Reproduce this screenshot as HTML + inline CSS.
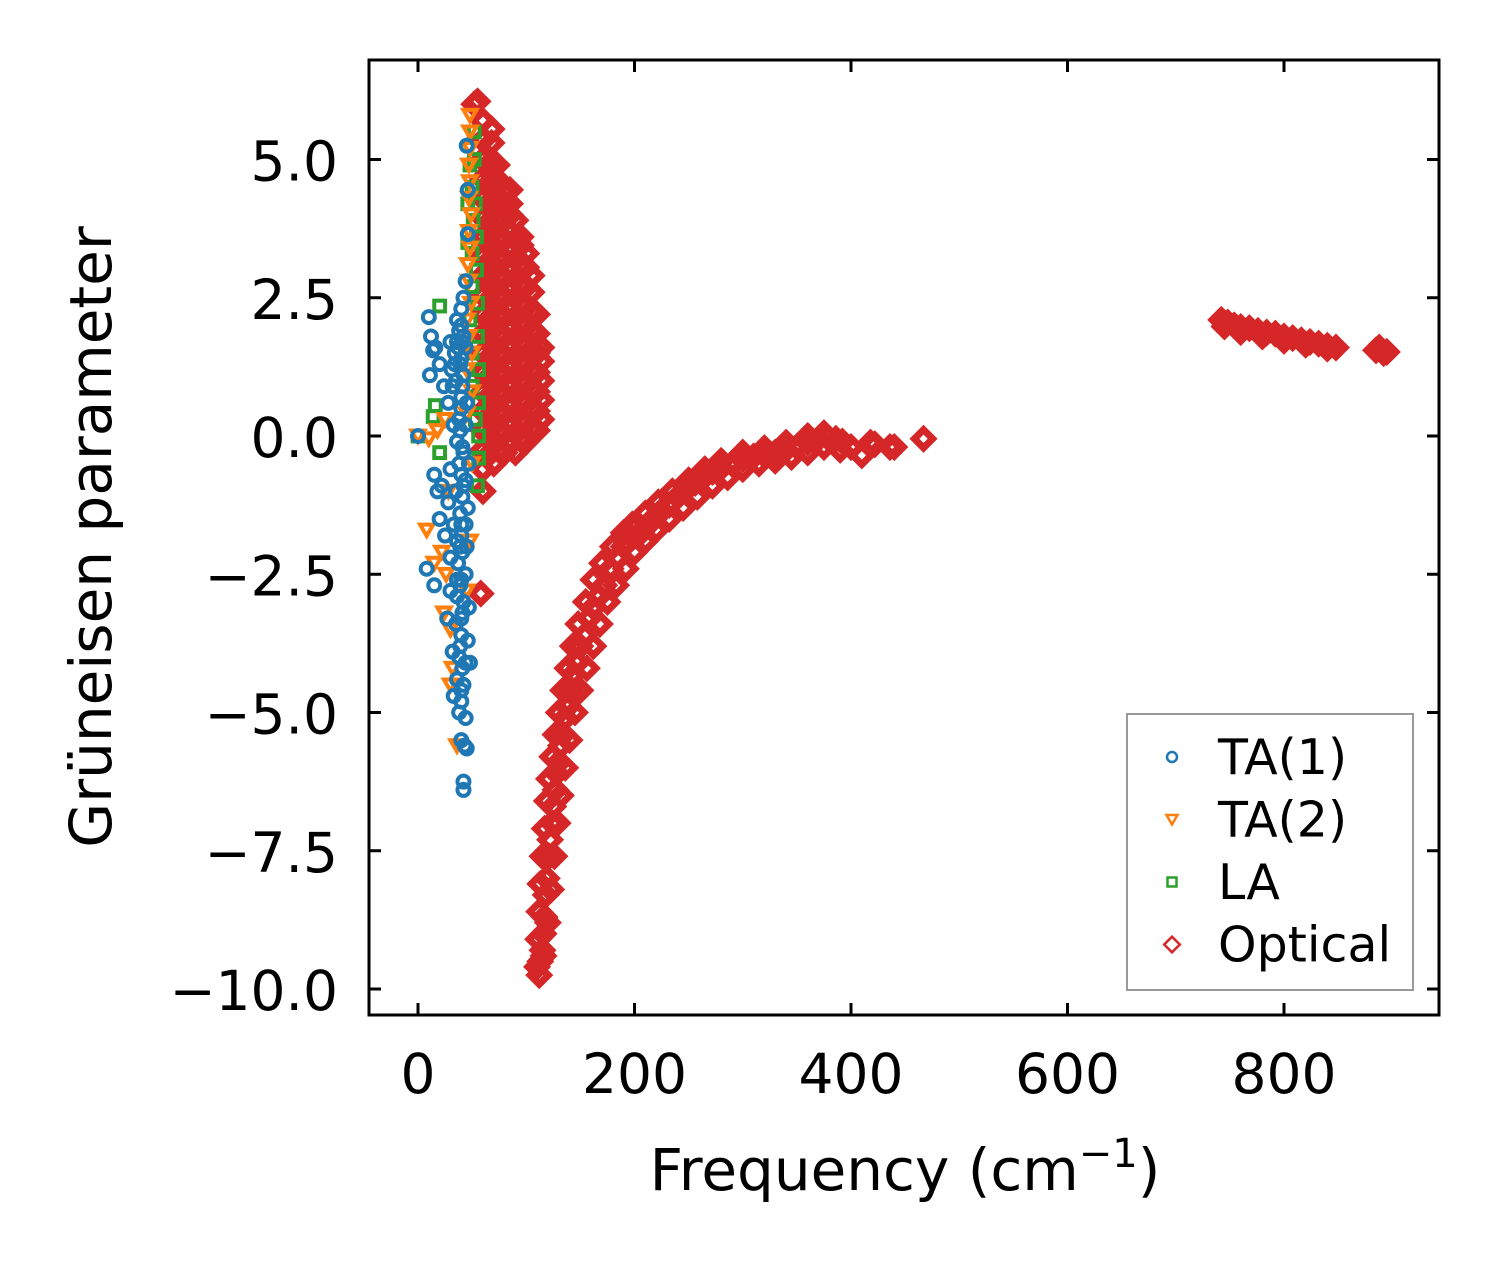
<!DOCTYPE html>
<html><head><meta charset="utf-8"><style>
body{margin:0;background:#fff;}
svg{display:block;font-family:"DejaVu Sans","Liberation Sans",sans-serif;}
</style></head><body>
<svg id="chart" width="1499" height="1264" viewBox="0 0 1499 1264">
<rect width="1499" height="1264" fill="#fff"/>
<g id="marks"></g>
<g id="axes"></g>
</svg>
<script>
const xTicks=[0,200,400,600,800];
const yTicks=[5.0,2.5,0.0,-2.5,-5.0,-7.5,-10.0];
const yTickLabels=["5.0","2.5","0.0","\u22122.5","\u22125.0","\u22127.5","\u221210.0"];
const ta1=[[45,5.25],[46,4.45],[46,3.65],[44,2.8],[42,2.5],[40,2.3],[36,2.1],[38,1.9],[42,1.8],[30,1.7],[34,1.5],[40,1.4],[44,1.6],[10,2.15],[14,1.55],[12,1.8],[16,1.6],[11,1.1],[20,1.3],[24,0.9],[28,0.6],[35,1.0],[42,1.1],[45,0.6],[33,0.2],[38,0.3],[44,0.2],[0,0.0],[36,-0.1],[42,-0.3],[30,-0.6],[15,-0.7],[18,-1.0],[22,-0.9],[28,-1.2],[35,-1.0],[42,-0.9],[46,-1.3],[20,-1.5],[25,-1.8],[33,-1.6],[40,-1.8],[45,-2.0],[30,-2.2],[37,-2.3],[44,-2.5],[8,-2.4],[15,-2.7],[30,-2.8],[36,-2.9],[42,-3.0],[47,-3.1],[27,-3.3],[35,-3.4],[40,-3.6],[46,-3.7],[32,-3.9],[38,-4.0],[44,-4.1],[48,-4.1],[36,-4.4],[42,-4.5],[33,-4.7],[40,-4.8],[44,-5.1],[40,-5.5],[45,-5.65],[43,-5.6],[42,-6.25],[42,-6.4],[38,-0.5],[40,0.7],[47,-0.5],[31,1.2],[37,1.6],[40,2.0],[41,1.7],[39,1.3],[41,0.9],[40,0.5],[39,0.1],[41,-0.2],[40,-0.7],[39,-1.4],[41,-1.1],[40,-1.6],[39,-2.0],[41,-2.1],[40,-2.6],[39,-2.7],[41,-3.2],[40,-3.3],[39,-3.8],[41,-4.2],[40,-4.6],[38,-5.0],[36,1.7],[34,1.3],[32,0.9],[44,-0.8],[44,-1.6],[36,-1.9],[36,-2.6]];
const ta2=[[48,5.8],[48,5.5],[48,5.2],[47,4.9],[48,4.6],[47,4.3],[49,4.0],[47,3.7],[48,3.4],[46,3.1],[47,2.8],[49,2.4],[45,2.1],[47,1.8],[50,1.5],[45,1.2],[50,0.8],[45,0.4],[0,0.0],[10,-0.05],[18,0.1],[25,0.3],[8,-1.7],[15,-2.3],[22,-2.1],[28,-1.0],[24,-3.2],[30,-3.5],[30,-4.5],[36,-5.6],[48,-1.9],[50,-0.5],[45,-2.8],[32,-4.2],[26,-2.5]];
const la=[[52,5.5],[52,5.0],[50,4.5],[53,4.2],[51,3.9],[54,3.6],[50,3.3],[54,3.0],[50,2.7],[55,2.4],[48,2.1],[55,1.8],[50,1.5],[56,1.2],[50,0.9],[56,0.6],[53,0.3],[56,0.0],[56,-0.4],[55,-0.9],[20,2.35],[16,0.55],[14,0.35],[0,0.0],[20,-0.3],[48,4.9],[46,3.5],[46,4.2]];
const opticalCloud=[
[60,-0.6],[60,-0.25],[60,0.1],[60,0.45],[60,0.8],[60,1.15],[60,1.5],[60,1.85],[60,2.2],[60,2.55],[60,2.9],[60,3.25],[60,3.6],[60,3.95],[60,4.3],[60,4.65],[60,5.0],[60,5.35],[60,5.7],
[65,-0.35],[65,0.0],[65,0.35],[65,0.7],[65,1.05],[65,1.4],[65,1.75],[65,2.1],[65,2.45],[65,2.8],[65,3.15],[65,3.5],[65,3.85],[65,4.2],[65,4.55],[65,4.9],
[70,-0.5],[70,-0.15],[70,0.2],[70,0.55],[70,0.9],[70,1.25],[70,1.6],[70,1.95],[70,2.3],[70,2.65],[70,3.0],[70,3.35],[70,3.7],[70,4.05],[70,4.4],[70,4.7],[70,4.9],
[75,-0.25],[75,0.1],[75,0.45],[75,0.8],[75,1.15],[75,1.5],[75,1.85],[75,2.2],[75,2.55],[75,2.9],[75,3.25],[75,3.6],[75,3.95],[75,4.3],[75,4.6],
[80,-0.3],[80,0.05],[80,0.4],[80,0.75],[80,1.1],[80,1.45],[80,1.8],[80,2.15],[80,2.5],[80,2.85],[80,3.2],[80,3.55],[80,3.9],[80,4.2],[80,4.4],
[85,-0.15],[85,0.2],[85,0.55],[85,0.9],[85,1.25],[85,1.6],[85,1.95],[85,2.3],[85,2.65],[85,3.0],[85,3.35],[85,3.7],[85,4.0],[85,4.2],
[90,-0.3],[90,0.05],[90,0.4],[90,0.75],[90,1.1],[90,1.45],[90,1.8],[90,2.15],[90,2.5],[90,2.85],[90,3.2],[90,3.55],[90,3.9],
[95,-0.05],[95,0.3],[95,0.65],[95,1.0],[95,1.35],[95,1.7],[95,2.05],[95,2.4],[95,2.75],[95,3.1],[95,3.45],[95,3.6],
[100,-0.1],[100,0.25],[100,0.6],[100,0.95],[100,1.3],[100,1.65],[100,2.0],[100,2.35],[100,2.7],[100,3.05],[100,3.3],
[105,0.15],[105,0.5],[105,0.85],[105,1.2],[105,1.55],[105,1.9],[105,2.25],[105,2.6],[105,2.9],
[110,0.1],[110,0.45],[110,0.8],[110,1.15],[110,1.5],[110,1.85],[110,2.2],
[114,0.3],[114,0.65],[114,1.0],[114,1.35],[114,1.6],
[68,5.55],[68,5.3],[73,4.9],[85,4.45],[60,-1.0],[58,-2.85],[55,6.05],[52,6.0]];
const opticalCurve=[[112,-9.75],[113,-9.5],[115,-9.3],[116,-9.0],[117,-8.7],[118,-8.3],[119,-8.0],[121,-7.6],[122,-7.3],[124,-7.0],[125,-6.7],[127,-6.4],[128,-6.1],[130,-5.9],[132,-5.6],[134,-5.4],[136,-5.1],[138,-4.9],[141,-4.6],[144,-4.3],[147,-4.1],[150,-3.8],[154,-3.6],[158,-3.3],[162,-3.1],[167,-2.9],[172,-2.7],[178,-2.4],[184,-2.2],[190,-2.0],[196,-1.8],[200,-1.65],[206,-1.75],[212,-1.6],[218,-1.5],[225,-1.35],[232,-1.25],[240,-1.1],[248,-0.95],[256,-0.85],[264,-0.75],[272,-0.65],[280,-0.58],[290,-0.5],[300,-0.42],[310,-0.37],[320,-0.35],[330,-0.3],[340,-0.25],[350,-0.2],[360,-0.12],[370,-0.05],[378,-0.02],[386,-0.05],[392,-0.1],[400,-0.2],[410,-0.35],[418,-0.12],[422,-0.15],[436,-0.2],[440,-0.2],[467,-0.05],
[110,-9.6],[111,-9.1],[112,-8.6],[113,-8.1],[115,-7.6],[117,-7.1],[119,-6.6],[121,-6.2],[124,-5.8],[127,-5.4],[130,-5.0],[134,-4.6],[138,-4.2],[143,-3.8],[148,-3.4],[155,-3.0],[162,-2.6],[170,-2.3],[180,-2.0],[190,-1.75],[198,-1.6],[210,-1.4],[222,-1.2],[235,-1.0],[250,-0.8],[265,-0.6],[280,-0.45],[300,-0.3],[320,-0.22],[340,-0.12],[360,0.0],[375,0.05],
[116,-9.4],[120,-8.8],[123,-8.2],[126,-7.6],[129,-7.0],[132,-6.5],[136,-6.0],[140,-5.5],[145,-5.0],[150,-4.6],[156,-4.2],[162,-3.8],[168,-3.4],[175,-3.0],[183,-2.7],[192,-2.4],[200,-2.1],[210,-1.9],[220,-1.7],[232,-1.5],[245,-1.3],[258,-1.1],[272,-0.9],[286,-0.75],[300,-0.6],[315,-0.5],[330,-0.45],[345,-0.38],[360,-0.3],[375,-0.2],[390,-0.25]];
const opticalHigh=[[742,2.1],[748,2.05],[754,2.0],[760,1.97],[768,1.95],[776,1.9],[784,1.87],[792,1.85],[800,1.8],[808,1.77],[816,1.73],[824,1.7],[832,1.67],[840,1.63],[848,1.6],[745,1.98],[760,1.88],[780,1.8],[800,1.72],[820,1.65],[840,1.58],[885,1.55],[890,1.55],[895,1.52],[888,1.6],[892,1.5]];
const legendLabels=["TA(1)","TA(2)","LA","Optical"];

const NS="http://www.w3.org/2000/svg";
const L=369,R=1439,T=60,B=1015;
function X(f){return 418+f*(216.5/200);}
function Y(g){return 436-g*55.3;}
function el(tag,attrs,parent){const e=document.createElementNS(NS,tag);for(const k in attrs)e.setAttribute(k,attrs[k]);parent.appendChild(e);return e;}
const marks=document.getElementById('marks');
const axes=document.getElementById('axes');
const C={b:"#1f77b4",o:"#ff7f0e",g:"#2ca02c",r:"#d62728"};
function marker(type,x,y,s,parent,sw){
  let e;
  if(type==='o'){e=el('circle',{cx:x,cy:y,r:s*0.5,fill:'none',stroke:C.b,'stroke-width':sw},parent);}
  else if(type==='v'){e=el('path',{d:`M${x-s*0.55},${y-s*0.45}L${x+s*0.55},${y-s*0.45}L${x},${y+s*0.5}Z`,fill:'none',stroke:C.o,'stroke-width':sw},parent);}
  else if(type==='s'){e=el('rect',{x:x-s*0.45,y:y-s*0.45,width:s*0.9,height:s*0.9,fill:'none',stroke:C.g,'stroke-width':sw},parent);}
  else {e=el('path',{d:`M${x},${y-s*0.65}L${x+s*0.65},${y}L${x},${y+s*0.65}L${x-s*0.65},${y}Z`,fill:'none',stroke:C.r,'stroke-width':sw},parent);}
  return e;
}
const gOpt=el('g',{},marks);


for(const p of opticalCloud.concat(opticalCurve,opticalHigh)){
  const m=marker('d',X(p[0]),Y(p[1]),14,gOpt,7);
  
  
}
const gLA=el('g',{},marks);


for(const p of la){
  const m=marker('s',X(p[0]),Y(p[1]),12,gLA,4);
  
  
}
const gTA2=el('g',{},marks);


for(const p of ta2){
  const m=marker('v',X(p[0]),Y(p[1]),12,gTA2,4);
  
  
}
const gTA1=el('g',{},marks);


for(const p of ta1){
  const m=marker('o',X(p[0]),Y(p[1]),12,gTA1,4);
  
  
}
const frame=el('rect',{x:L,y:T,width:R-L,height:B-T,fill:'none',stroke:'#000','stroke-width':3},axes);


xTicks.forEach(v=>{
  const x=X(v);
  el('line',{x1:x,y1:B,x2:x,y2:B-12,stroke:'#000','stroke-width':3},axes);
  el('line',{x1:x,y1:T,x2:x,y2:T+12,stroke:'#000','stroke-width':3},axes);
  const t=el('text',{x:x,y:1093,'text-anchor':'middle','font-size':55,fill:'#000'},axes);
  t.textContent=String(v);
  
  
});
yTicks.forEach((v,i)=>{
  const y=Y(v);
  el('line',{x1:L,y1:y,x2:L+12,y2:y,stroke:'#000','stroke-width':3},axes);
  el('line',{x1:R,y1:y,x2:R-12,y2:y,stroke:'#000','stroke-width':3},axes);
  const t=el('text',{x:338,y:y+21,'text-anchor':'end','font-size':55,fill:'#000'},axes);
  t.textContent=yTickLabels[i];
  
  
});
const xt=el('text',{x:905,y:1190,'text-anchor':'middle','font-size':58,fill:'#000'},axes);
xt.innerHTML='Frequency (cm<tspan dy="-23" font-size="40">\u22121</tspan><tspan dy="23">)</tspan>';


const yt=el('text',{x:0,y:0,'text-anchor':'middle','font-size':58,fill:'#000',transform:'translate(111,537) rotate(-90)'},axes);
yt.textContent='Grüneisen parameter';


const lg=el('g',{},axes);


el('rect',{x:1127,y:714,width:286,height:276,fill:'#fff',stroke:'#999','stroke-width':2},lg);
const lt=['o','v','s','d'];
legendLabels.forEach((s,i)=>{
  const y=757+i*62.5;
  const g=el('g',{},lg);
  
  
  marker(lt[i],1172,y,i===3?12:10,g,2.5);
  const t=el('text',{x:1218,y:y+17,'font-size':49,fill:'#000'},g);
  t.textContent=s;
});
</script>
</body></html>
